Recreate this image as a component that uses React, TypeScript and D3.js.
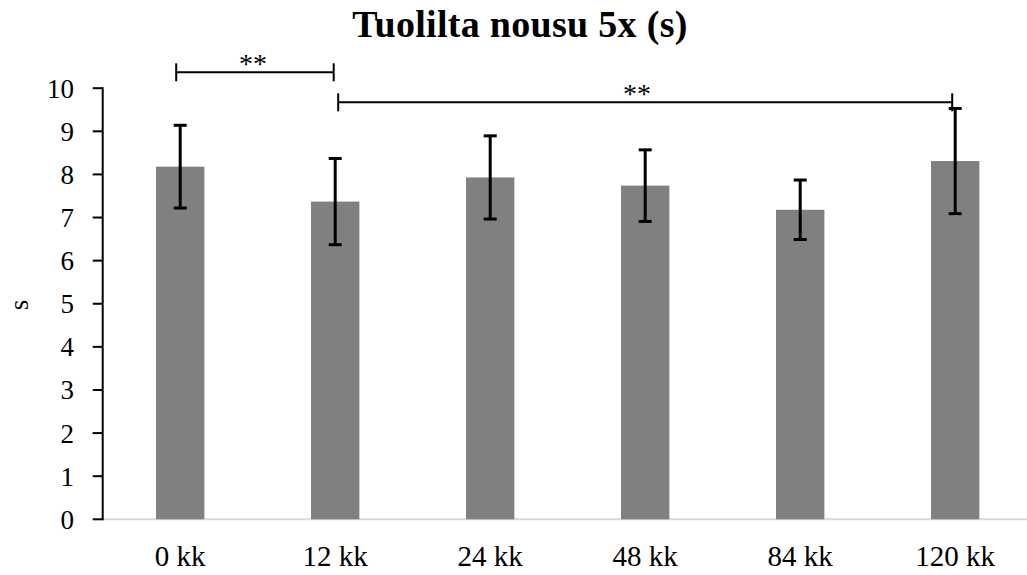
import React from "react";
import * as d3 from "d3";

const categories = ["0 kk", "12 kk", "24 kk", "48 kk", "84 kk", "120 kk"];
const means = [8.18, 7.37, 7.93, 7.74, 7.18, 8.31];
const errors = [0.96, 1.0, 0.965, 0.83, 0.69, 1.22];
const yTicks = [0, 1, 2, 3, 4, 5, 6, 7, 8, 9, 10];
const sigFrom = ["0 kk", "12 kk"];
const sigTo = ["12 kk", "120 kk"];
const sigLabels = ["**", "**"];
const title = "Tuolilta nousu 5x (s)";
const yLabel = "s";

const W = 1027;
const H = 575;
const FONT = "'Liberation Serif', 'Times New Roman', serif";

export default function App() {
  const x = d3
    .scaleBand<string>()
    .domain(categories)
    .range([102.7, 1032.7])
    .paddingInner(0.688)
    .paddingOuter(0.344);
  const y = d3.scaleLinear().domain([0, 10]).range([519.3, 88.2]);
  const bw = x.bandwidth();
  const cx = (c: string) => (x(c) as number) + bw / 2;

  const sigY = [72.3, 102.3];
  const sigOff = [
    [-4, -1.5],
    [3, -3],
  ];
  const sigTextX = [253, 637];

  return (
    <svg
      width={W}
      height={H}
      style={{ position: "absolute", left: 0, top: 0, background: "#fff" }}
      fontFamily={FONT}
    >
      <text x={520} y={37} textAnchor="middle" fontSize={38} fontWeight="bold" fill="#000" letterSpacing={0.3}>
        {title}
      </text>

      {/* baseline */}
      <line x1={102.7} x2={W} y1={y(0)} y2={y(0)} stroke="#d9d9d9" strokeWidth={2} />

      {/* bars */}
      {categories.map((c, i) => (
        <rect key={c} x={x(c)} y={y(means[i])} width={bw} height={y(0) - y(means[i])} fill="#808080" />
      ))}

      {/* error bars */}
      {categories.map((c, i) => {
        const xc = cx(c);
        const top = y(means[i] + errors[i]);
        const bot = y(means[i] - errors[i]);
        return (
          <g key={c} stroke="#000" strokeWidth={3}>
            <line x1={xc} x2={xc} y1={top} y2={bot} />
            <line x1={xc - 6.5} x2={xc + 6.5} y1={top} y2={top} />
            <line x1={xc - 6.5} x2={xc + 6.5} y1={bot} y2={bot} />
          </g>
        );
      })}

      {/* y axis */}
      <line x1={102.7} x2={102.7} y1={y(10) - 1} y2={y(0) + 1} stroke="#000" strokeWidth={2} />
      {yTicks.map((t) => (
        <g key={t}>
          <line x1={92.7} x2={102.7} y1={y(t)} y2={y(t)} stroke="#000" strokeWidth={2} />
          <text x={74} y={y(t)} dy="0.35em" textAnchor="end" fontSize={27} fill="#000">
            {t}
          </text>
        </g>
      ))}

      {/* x labels */}
      {categories.map((c) => (
        <text key={c} x={cx(c)} y={566} textAnchor="middle" fontSize={29} fill="#000">
          {c}
        </text>
      ))}

      {/* y label */}
      <text
        transform={`translate(28,305) rotate(-90)`}
        textAnchor="middle"
        fontSize={27}
        fill="#000"
      >
        {yLabel}
      </text>

      {/* significance brackets */}
      {sigFrom.map((f, i) => {
        const x1 = cx(f) + sigOff[i][0];
        const x2 = cx(sigTo[i]) + sigOff[i][1];
        const yy = sigY[i];
        return (
          <g key={i}>
            <g stroke="#000" strokeWidth={2}>
              <line x1={x1} x2={x2} y1={yy} y2={yy} />
              <line x1={x1} x2={x1} y1={yy - 9} y2={yy + 9} />
              <line x1={x2} x2={x2} y1={yy - 9} y2={yy + 9} />
            </g>
            <text x={sigTextX[i]} y={yy + 1} textAnchor="middle" fontSize={28} fill="#000">
              {sigLabels[i]}
            </text>
          </g>
        );
      })}
    </svg>
  );
}
